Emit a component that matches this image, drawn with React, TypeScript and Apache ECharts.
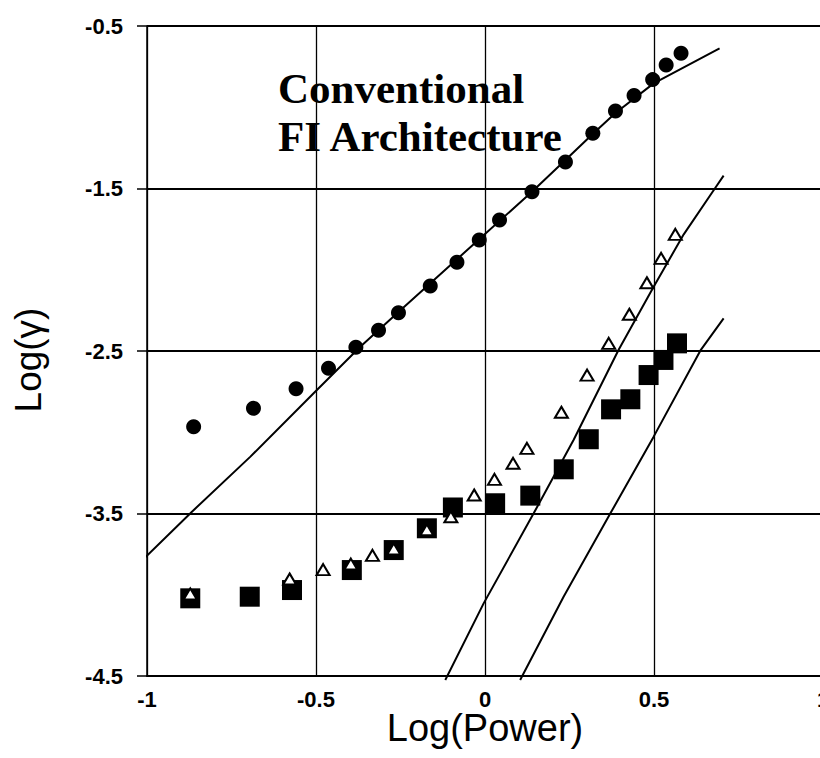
import React, { useEffect, useRef } from "react";
import * as echarts from "echarts";

// ---- data ----
const xTicks = [-1, -0.5, 0, 0.5, 1];
const yTicks = [-4.5, -3.5, -2.5, -1.5, -0.5];

const circleX = [-0.862, -0.685, -0.559, -0.463, -0.382, -0.315, -0.256, -0.162, -0.083, -0.017, 0.043, 0.139, 0.238, 0.319, 0.386, 0.441, 0.496, 0.536, 0.58];
const circleY = [-2.966, -2.853, -2.732, -2.606, -2.477, -2.373, -2.264, -2.1, -1.954, -1.817, -1.694, -1.52, -1.337, -1.16, -1.023, -0.928, -0.83, -0.74, -0.668];

const squareX = [-0.872, -0.696, -0.571, -0.394, -0.27, -0.172, -0.095, 0.03, 0.134, 0.233, 0.307, 0.373, 0.43, 0.484, 0.528, 0.568];
const squareY = [-4.022, -4.012, -3.971, -3.848, -3.725, -3.591, -3.463, -3.437, -3.39, -3.228, -3.043, -2.859, -2.797, -2.648, -2.555, -2.453];

const triangleX = [-0.872, -0.578, -0.479, -0.397, -0.333, -0.27, -0.172, -0.101, -0.032, 0.028, 0.083, 0.124, 0.226, 0.302, 0.366, 0.427, 0.479, 0.521, 0.563];
const triangleY = [-3.995, -3.903, -3.845, -3.811, -3.758, -3.718, -3.6, -3.52, -3.386, -3.29, -3.191, -3.099, -2.877, -2.648, -2.453, -2.274, -2.08, -1.93, -1.782];

const fitAX = [-1.02, -0.867, -0.694, -0.507, -0.369, -0.256, -0.014, 0.139, 0.238, 0.321, 0.386, 0.499, 0.694];
const fitAY = [-3.8, -3.489, -3.15, -2.76, -2.474, -2.26, -1.806, -1.52, -1.325, -1.16, -1.035, -0.853, -0.637];

const fitBX = [-0.1175, -0.004, 0.144, 0.262, 0.395, 0.499, 0.588, 0.681, 0.706];
const fitBY = [-4.525, -4.053, -3.499, -3.048, -2.494, -2.104, -1.782, -1.497, -1.421];

const fitCX = [0.104, 0.2325, 0.371, 0.499, 0.637, 0.706];
const fitCY = [-4.525, -4.012, -3.499, -3.027, -2.498, -2.299];

const annotationLines = ["Conventional", "FI Architecture"];
const xTitle = "Log(Power)";
const yTitle = "Log(γ)";

const pairs = (xs: number[], ys: number[]) => xs.map((x, i) => [x, ys[i]]);

export default function App() {
  const ref = useRef<HTMLDivElement>(null);
  useEffect(() => {
    if (!ref.current) return;
    const chart = echarts.init(ref.current, undefined, { renderer: "svg" });
    const sans = "'Liberation Sans', Arial, sans-serif";
    const fitLine = (xs: number[], ys: number[]) => ({
      type: "line",
      data: pairs(xs, ys),
      showSymbol: false,
      smooth: false,
      clip: false,
      lineStyle: { color: "#000", width: 2 },
      silent: true,
      z: 3,
    });
    chart.setOption({
      animation: false,
      backgroundColor: "#fff",
      grid: { left: 147, top: 26, width: 676, height: 650, outerBoundsMode: "none", containLabel: false },
      xAxis: {
        type: "value",
        min: xTicks[0],
        max: xTicks[xTicks.length - 1],
        interval: 0.5,
        name: xTitle,
        nameLocation: "middle",
        nameGap: 33,
        nameMoveOverlap: false,
        nameTextStyle: { color: "#000", fontSize: 38, fontFamily: sans },
        axisLine: { show: true, onZero: false, lineStyle: { color: "#000", width: 2 } },
        axisTick: { show: false },
        axisLabel: { color: "#000", fontSize: 22, fontWeight: "bold", fontFamily: sans, margin: 12 },
        splitLine: { show: true, lineStyle: { color: "#000", width: 1.3 } },
      },
      yAxis: {
        type: "value",
        min: yTicks[0],
        max: yTicks[yTicks.length - 1],
        interval: 1,
        name: yTitle,
        nameLocation: "middle",
        nameGap: 100,
        nameRotate: 90,
        nameMoveOverlap: false,
        nameTextStyle: { color: "#000", fontSize: 37, fontFamily: sans, padding: [0, 18, 0, 0] },
        axisLine: { show: true, onZero: false, lineStyle: { color: "#000", width: 1.5 } },
        axisTick: { show: true, inside: false, length: 10, lineStyle: { color: "#000", width: 1.5 } },
        axisLabel: { color: "#000", fontSize: 22, fontWeight: "bold", fontFamily: sans, margin: 24 },
        splitLine: { show: true, lineStyle: { color: "#000", width: 2 } },
      },
      graphic: [
        {
          type: "text",
          x: 278,
          y: 112,
          z: 10,
          style: {
            text: annotationLines.join("\n"),
            font: "bold 43px 'Liberation Serif', 'Times New Roman', serif",
            fill: "#000",
            lineHeight: 48,
            textAlign: "left",
            textVerticalAlign: "middle",
          },
        },
      ],
      series: [
        fitLine(fitAX, fitAY),
        fitLine(fitBX, fitBY),
        fitLine(fitCX, fitCY),
        {
          type: "scatter",
          data: pairs(circleX, circleY),
          symbol: "circle",
          symbolSize: 15,
          itemStyle: { color: "#000", opacity: 1 },
          z: 4,
        },
        {
          type: "scatter",
          data: pairs(squareX, squareY),
          symbol: "rect",
          symbolSize: 20,
          itemStyle: { color: "#000", opacity: 1 },
          z: 4,
        },
        {
          type: "scatter",
          data: pairs(triangleX, triangleY),
          symbol: "triangle",
          symbolSize: [13, 11],
          itemStyle: { color: "#fff", borderColor: "#000", borderWidth: 2, opacity: 1 },
          z: 5,
        },
      ],
    });
    return () => chart.dispose();
  }, []);
  return (
    <div
      ref={ref}
      style={{ position: "absolute", left: 0, top: 0, width: 820, height: 758, background: "#fff" }}
    />
  );
}
